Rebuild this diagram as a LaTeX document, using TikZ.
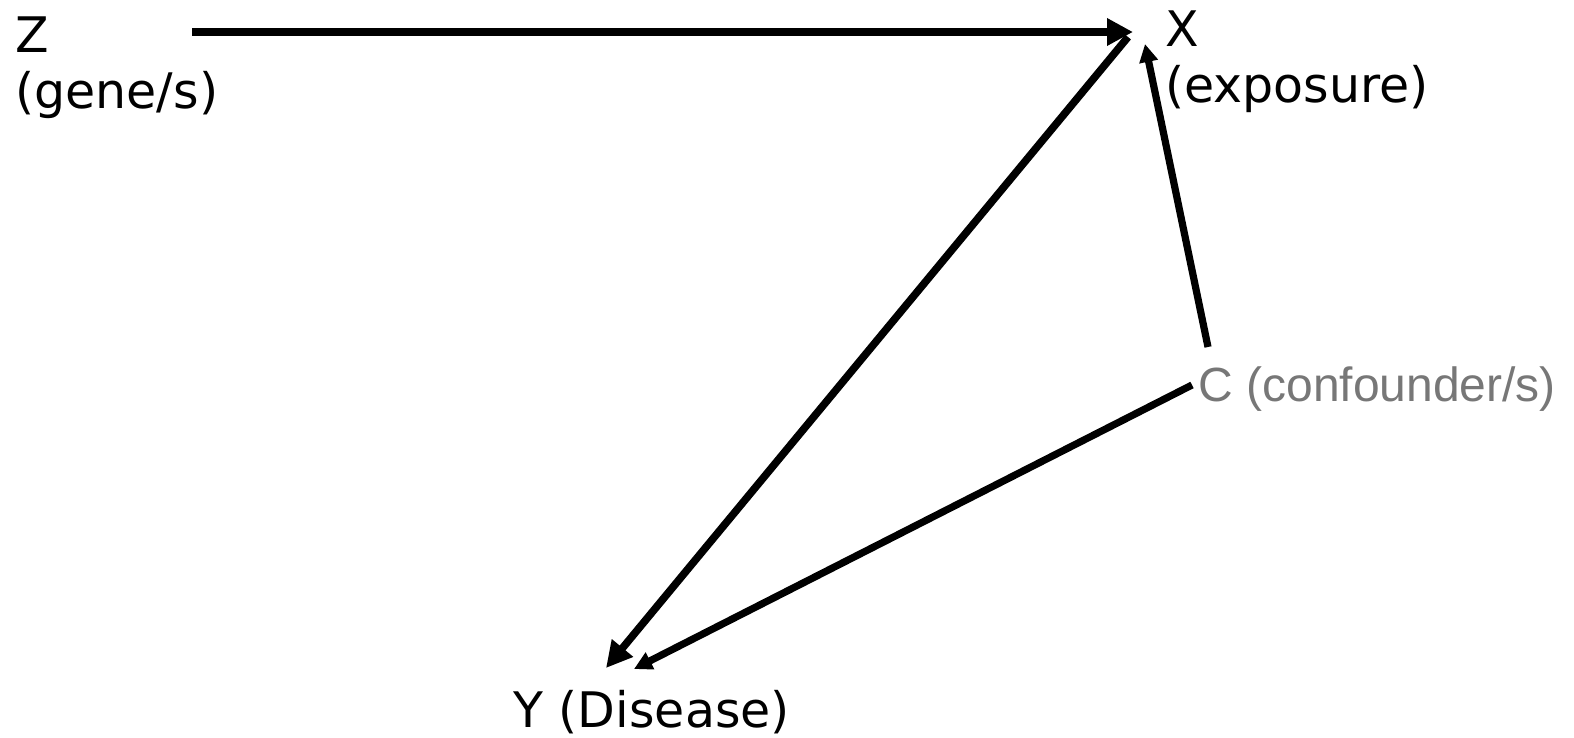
\documentclass[tikz,border=0pt]{standalone}
\usepackage{fontspec}
\setmainfont{DejaVu Sans}
\newfontfamily\confont{Liberation Sans}
\usetikzlibrary{arrows.meta,positioning}
\definecolor{dagInk}{HTML}{000000}
\definecolor{dagGray}{HTML}{777777}

\begin{document}
\begin{tikzpicture}[x=0.5pt,y=-0.5pt,
    lbl/.style={inner sep=0pt,align=left,font=\fontsize{24.5}{28}\selectfont},
    arr/.style={draw=dagInk,line width=3.8pt,-{Triangle[length=13pt,width=13pt]}},
    arrs/.style={draw=dagInk,line width=3.6pt,-{Triangle[length=9pt,width=9pt]}}]
  \useasboundingbox (0,0) rectangle (1574,738);
  % labels
  \node[lbl,anchor=north west] (z) at (15,16) {Z\\(gene/s)};
  \node[lbl,anchor=north west] (x) at (1165,10) {X\\(exposure)};
  \node[lbl,anchor=base west] (y) at (513,727) {Y (Disease)};
  \node[lbl,anchor=base west,text=dagGray,font=\confont\fontsize{24}{27}\selectfont]
    (c) at (1198,401) {C (confounder/s)};
  % arrow ends
  \coordinate (zout) at (192,32);
  \coordinate (xin)  at (1133,32);
  \coordinate (xout) at (1128,37);
  \coordinate (xinc) at (1145,44);
  \coordinate (yinx) at (606,668);
  \coordinate (yinc) at (634,669);
  \coordinate (coutx) at (1208,347);
  \coordinate (couty) at (1192,385);
  % arrows
  \draw[arr] (zout) -- (xin);
  \draw[arr] (xout) -- (yinx);
  \draw[arrs] (coutx) -- (xinc);
  \draw[arrs] (couty) -- (yinc);
\end{tikzpicture}
\end{document}
